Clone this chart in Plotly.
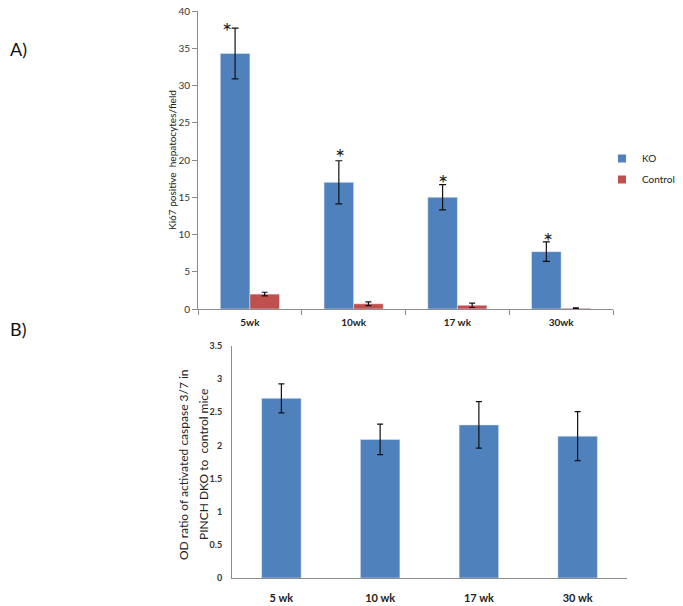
import plotly.graph_objects as go

# ---- data ----
weeks_a = ["5wk", "10wk", "17 wk", "30wk"]
ko_vals = [34.3, 17.0, 15.0, 7.7]
ko_err = [3.4, 2.9, 1.7, 1.3]
ctrl_vals = [2.0, 0.7, 0.5, 0.1]
ctrl_err = [0.25, 0.25, 0.3, 0.05]

weeks_b = ["5 wk", "10 wk", "17 wk", "30 wk"]
od_vals = [2.71, 2.09, 2.31, 2.14]
od_err = [0.22, 0.23, 0.35, 0.37]

BLUE = "#4F81BD"
RED = "#C0504D"
FONT = "Lato, 'Liberation Sans', sans-serif"
AXIS = "#8C8C8C"

W, H = 683, 606


def sx(x):  # screen x (px) -> paper fraction
    return x / W


def sy(y):  # screen y (px) -> paper fraction
    return 1 - y / H


fig = go.Figure()

fig.add_trace(go.Bar(
    x=weeks_a, y=ko_vals, name="KO", marker_color=BLUE, showlegend=False,
    error_y=dict(type="data", array=ko_err, color="#111", thickness=1.2, width=3.5),
    xaxis="x", yaxis="y"))
fig.add_trace(go.Bar(
    x=weeks_a, y=ctrl_vals, name="Control", marker_color=RED, showlegend=False,
    error_y=dict(type="data", array=ctrl_err, color="#111", thickness=1.2, width=3),
    xaxis="x", yaxis="y"))

# legend entries (square swatches)
fig.add_trace(go.Scatter(x=[None], y=[None], mode="markers", name="KO",
                         marker=dict(symbol="square", size=8, color=BLUE),
                         xaxis="x", yaxis="y", legendgroup="a"))
fig.add_trace(go.Scatter(x=[None], y=[None], mode="markers", name="Control",
                         marker=dict(symbol="square", size=8, color=RED),
                         xaxis="x", yaxis="y", legendgroup="b"))

fig.add_trace(go.Bar(
    x=weeks_b, y=od_vals, marker_color=BLUE, showlegend=False, width=0.4,
    error_y=dict(type="data", array=od_err, color="#111", thickness=1.2, width=3),
    xaxis="x2", yaxis="y2"))

annotations = []
# significance asterisks above KO bars (KO bar sits left of category centre)
star_dx = [-23, -14, -14, -13]
star_dy = [-2, 4, 2, 1]
for i, (c, v, e) in enumerate(zip(weeks_a, ko_vals, ko_err)):
    annotations.append(dict(x=c, y=v + e, xref="x", yref="y", text="*",
                            showarrow=False, yanchor="middle", yshift=star_dy[i],
                            xshift=star_dx[i],
                            font=dict(family=FONT, size=24, color="#222")))

annotations += [
    dict(x=sx(8), y=sy(49), xref="paper", yref="paper", text="A)",
         showarrow=False, xanchor="left", yanchor="middle",
         font=dict(family=FONT, size=18, color="#111")),
    dict(x=sx(8), y=sy(329), xref="paper", yref="paper", text="B)",
         showarrow=False, xanchor="left", yanchor="middle",
         font=dict(family=FONT, size=18, color="#111")),
    dict(x=sx(172), y=sy(160), xref="paper", yref="paper",
         text="Ki67 positive  hepatocytes/field", textangle=-90,
         showarrow=False, xanchor="center", yanchor="middle",
         font=dict(family=FONT, size=10, color="#222")),
    dict(x=sx(183), y=sy(465), xref="paper", yref="paper",
         text="OD ratio of activated caspase 3/7 in",
         textangle=-90, showarrow=False, xanchor="center", yanchor="middle",
         font=dict(family=FONT, size=12, color="#222")),
    dict(x=sx(203), y=sy(465), xref="paper", yref="paper",
         text="PINCH DKO to  control mice",
         textangle=-90, showarrow=False, xanchor="center", yanchor="middle",
         font=dict(family=FONT, size=12, color="#222")),
]

fig.update_layout(
    width=W, height=H,
    margin=dict(l=0, r=0, t=0, b=0, autoexpand=False),
    paper_bgcolor="white", plot_bgcolor="white",
    barmode="group", bargap=0.43, bargroupgap=0,
    font=dict(family=FONT, color="#222"),
    showlegend=True,
    legend=dict(x=sx(602), y=sy(144), xanchor="left", yanchor="top",
                font=dict(family=FONT, size=10, color="#222"),
                traceorder="grouped", tracegroupgap=2, itemwidth=30,
                bgcolor="rgba(0,0,0,0)"),
    xaxis=dict(domain=[sx(198), sx(613)], anchor="y",
               showline=True, linecolor=AXIS, linewidth=1,
               ticks="outside", ticklen=5, tickcolor=AXIS, tickson="boundaries",
               ticklabelstandoff=4,
               tickfont=dict(family=FONT, size=10, color="#222", weight="bold"),
               showgrid=False, zeroline=False),
    yaxis=dict(domain=[sy(309), sy(11)], anchor="x",
               range=[0, 40], dtick=5,
               showline=True, linecolor=AXIS, linewidth=1,
               ticks="outside", ticklen=5, tickcolor=AXIS,
               tickfont=dict(family=FONT, size=10, color="#333"),
               showgrid=False, zeroline=False),
    xaxis2=dict(domain=[sx(232), sx(627)], anchor="y2",
                showline=True, linecolor=AXIS, linewidth=1, ticks="",
                ticklabelstandoff=10,
                tickfont=dict(family=FONT, size=11, color="#222", weight="bold"),
                showgrid=False, zeroline=False),
    yaxis2=dict(domain=[sy(578), sy(346)], anchor="x2",
                range=[0, 3.5], dtick=0.5,
                showline=True, linecolor=AXIS, linewidth=1, ticks="",
                ticklabelstandoff=7,
                tickfont=dict(family=FONT, size=9, color="#333", weight="bold"),
                showgrid=False, zeroline=False),
    annotations=annotations,
)

# remove the default page margin so the figure sits at the window's corner
fig.write_html("out.html", config={"displayModeBar": False},
               post_script="document.body.style.margin='0';")
